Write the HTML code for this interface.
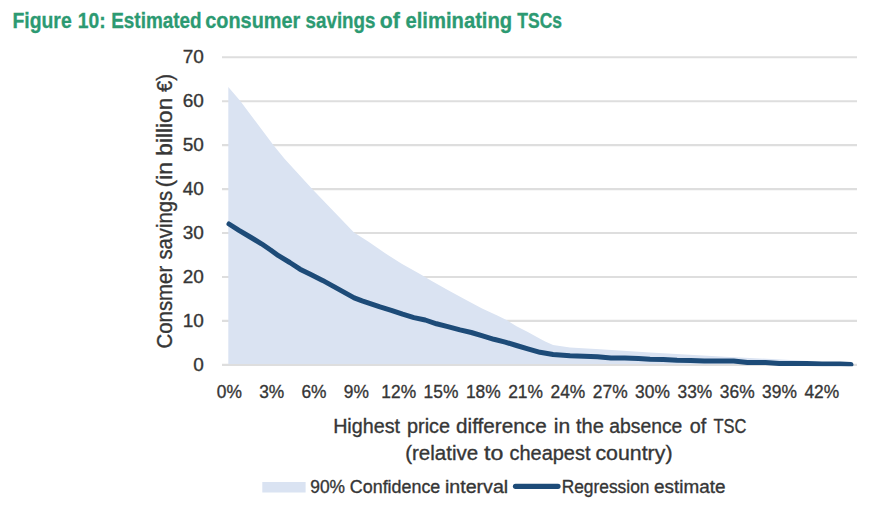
<!DOCTYPE html>
<html><head><meta charset="utf-8"><style>
html,body{margin:0;padding:0;background:#fff;width:877px;height:531px;overflow:hidden}
svg{display:block}
text{font-family:"Liberation Sans",sans-serif;fill:#363636;stroke:#363636;stroke-width:0.35px}
.t text{fill:#2c9a72;stroke:#2c9a72;stroke-width:0.3px}
</style></head><body>
<svg width="877" height="531" viewBox="0 0 877 531">
<g class="t" style="font-weight:bold;font-size:21.5px"><text x="12.40" y="27.7" textLength="59.34" lengthAdjust="spacingAndGlyphs">Figure</text><text x="77.80" y="27.7" textLength="27.86" lengthAdjust="spacingAndGlyphs">10:</text><text x="111.22" y="27.7" textLength="90.45" lengthAdjust="spacingAndGlyphs">Estimated</text><text x="205.28" y="27.7" textLength="95.01" lengthAdjust="spacingAndGlyphs">consumer</text><text x="305.53" y="27.7" textLength="70.02" lengthAdjust="spacingAndGlyphs">savings</text><text x="379.71" y="27.7" textLength="20.09" lengthAdjust="spacingAndGlyphs">of</text><text x="405.46" y="27.7" textLength="106.74" lengthAdjust="spacingAndGlyphs">eliminating</text><text x="517.30" y="27.7" textLength="44.79" lengthAdjust="spacingAndGlyphs">TSCs</text></g>
<g stroke="#dedede" stroke-width="2.1"><line x1="222" y1="57.2" x2="857" y2="57.2"/><line x1="222" y1="101.2" x2="857" y2="101.2"/><line x1="222" y1="145.1" x2="857" y2="145.1"/><line x1="222" y1="189.1" x2="857" y2="189.1"/><line x1="222" y1="233.0" x2="857" y2="233.0"/><line x1="222" y1="277.0" x2="857" y2="277.0"/><line x1="222" y1="320.9" x2="857" y2="320.9"/><line x1="222" y1="364.9" x2="857" y2="364.9"/></g>
<path d="M228.3,364.0 L228.3,87.0 L240.3,101.0 L273.3,145.0 L284.5,158.8 L312.2,189.0 L354.0,232.4 L368.2,241.5 L385.2,253.3 L402.1,264.1 L420.0,274.0 L431.3,280.7 L448.2,290.3 L465.2,299.4 L482.1,308.4 L497.3,315.5 L507.5,320.6 L516.5,326.3 L527.8,331.9 L540.0,338.7 L545.2,341.6 L553.1,345.0 L570.0,347.5 L600.0,349.3 L650.0,352.5 L725.0,356.8 L760.0,358.5 L800.0,360.5 L850.5,364.0 L850.5,364.0 Z" fill="#dae3f2"/>
<clipPath id="pc"><rect x="0" y="0" width="877" height="366.3"/></clipPath>
<path clip-path="url(#pc)" d="M229.0,224.0 L239.0,230.3 L250.2,237.0 L261.5,243.8 L270.6,250.0 L278.5,255.7 L289.8,262.5 L300.0,269.2 L311.3,274.8 L322.6,280.4 L333.9,286.6 L345.2,292.9 L354.2,297.9 L362.1,300.8 L380.0,306.9 L391.3,310.3 L402.6,314.2 L413.9,317.6 L425.2,320.0 L436.5,323.8 L447.8,326.6 L460.0,329.9 L471.3,332.5 L482.6,335.9 L493.9,339.3 L505.2,342.1 L516.5,345.5 L527.8,348.9 L540.0,352.3 L553.1,354.5 L570.0,355.8 L584.0,356.3 L597.4,356.7 L611.0,357.9 L624.7,358.0 L638.4,358.5 L650.0,359.2 L663.2,359.4 L677.0,360.3 L690.6,360.4 L704.3,361.1 L720.0,361.0 L733.7,361.0 L747.4,362.4 L765.6,362.6 L779.3,363.4 L806.4,363.4 L822.0,364.0 L840.2,364.1 L851.0,364.6" fill="none" stroke="#1d4b78" stroke-width="5.0" stroke-linejoin="round" stroke-linecap="round"/>
<g style="font-size:19px"><text x="203.8" y="63.1" text-anchor="end">70</text><text x="203.8" y="107.1" text-anchor="end">60</text><text x="203.8" y="151.0" text-anchor="end">50</text><text x="203.8" y="195.0" text-anchor="end">40</text><text x="203.8" y="238.9" text-anchor="end">30</text><text x="203.8" y="282.9" text-anchor="end">20</text><text x="203.8" y="326.8" text-anchor="end">10</text><text x="203.8" y="370.8" text-anchor="end">0</text></g>
<g style="font-size:18.5px"><text x="229.4" y="398.2" text-anchor="middle" textLength="25.10" lengthAdjust="spacingAndGlyphs">0%</text><text x="271.7" y="398.2" text-anchor="middle" textLength="25.10" lengthAdjust="spacingAndGlyphs">3%</text><text x="314.0" y="398.2" text-anchor="middle" textLength="25.10" lengthAdjust="spacingAndGlyphs">6%</text><text x="356.3" y="398.2" text-anchor="middle" textLength="25.10" lengthAdjust="spacingAndGlyphs">9%</text><text x="398.7" y="398.2" text-anchor="middle" textLength="34.80" lengthAdjust="spacingAndGlyphs">12%</text><text x="441.0" y="398.2" text-anchor="middle" textLength="34.80" lengthAdjust="spacingAndGlyphs">15%</text><text x="483.3" y="398.2" text-anchor="middle" textLength="34.80" lengthAdjust="spacingAndGlyphs">18%</text><text x="525.6" y="398.2" text-anchor="middle" textLength="34.80" lengthAdjust="spacingAndGlyphs">21%</text><text x="567.9" y="398.2" text-anchor="middle" textLength="34.80" lengthAdjust="spacingAndGlyphs">24%</text><text x="610.2" y="398.2" text-anchor="middle" textLength="34.80" lengthAdjust="spacingAndGlyphs">27%</text><text x="652.5" y="398.2" text-anchor="middle" textLength="34.80" lengthAdjust="spacingAndGlyphs">30%</text><text x="694.9" y="398.2" text-anchor="middle" textLength="34.80" lengthAdjust="spacingAndGlyphs">33%</text><text x="737.2" y="398.2" text-anchor="middle" textLength="34.80" lengthAdjust="spacingAndGlyphs">36%</text><text x="779.5" y="398.2" text-anchor="middle" textLength="34.80" lengthAdjust="spacingAndGlyphs">39%</text><text x="821.8" y="398.2" text-anchor="middle" textLength="34.80" lengthAdjust="spacingAndGlyphs">42%</text></g>
<g transform="translate(172.3,347.5) rotate(-90)" style="font-size:21.5px"><text x="-0.95" y="0" textLength="82.65" lengthAdjust="spacingAndGlyphs">Consmer</text><text x="88.00" y="0" textLength="68.61" lengthAdjust="spacingAndGlyphs">savings</text><text x="160.14" y="0" textLength="25.43" lengthAdjust="spacingAndGlyphs">(in</text><text x="191.85" y="0" textLength="57.89" lengthAdjust="spacingAndGlyphs">billion</text><text x="255.50" y="0" textLength="17.96" lengthAdjust="spacingAndGlyphs">€)</text></g>
<g style="font-size:20.5px"><text x="333.14" y="432.5" textLength="66.90" lengthAdjust="spacingAndGlyphs">Highest</text><text x="407.03" y="432.5" textLength="42.99" lengthAdjust="spacingAndGlyphs">price</text><text x="456.09" y="432.5" textLength="90.59" lengthAdjust="spacingAndGlyphs">difference</text><text x="553.77" y="432.5" textLength="16.43" lengthAdjust="spacingAndGlyphs">in</text><text x="576.00" y="432.5" textLength="27.89" lengthAdjust="spacingAndGlyphs">the</text><text x="609.26" y="432.5" textLength="73.13" lengthAdjust="spacingAndGlyphs">absence</text><text x="689.84" y="432.5" textLength="16.51" lengthAdjust="spacingAndGlyphs">of</text><text x="713.40" y="432.5" textLength="32.90" lengthAdjust="spacingAndGlyphs">TSC</text><text x="405.20" y="459.7" textLength="73.02" lengthAdjust="spacingAndGlyphs">(relative</text><text x="484.10" y="459.7" textLength="19.32" lengthAdjust="spacingAndGlyphs">to</text><text x="509.53" y="459.7" textLength="80.97" lengthAdjust="spacingAndGlyphs">cheapest</text><text x="595.46" y="459.7" textLength="77.05" lengthAdjust="spacingAndGlyphs">country)</text></g>
<rect x="262.3" y="482.0" width="43.3" height="10.5" fill="#dae3f2"/>
<g style="font-size:18.7px"><text x="310.27" y="492.6" textLength="34.81" lengthAdjust="spacingAndGlyphs">90%</text><text x="349.84" y="492.6" textLength="90.48" lengthAdjust="spacingAndGlyphs">Confidence</text><text x="444.95" y="492.6" textLength="63.26" lengthAdjust="spacingAndGlyphs">interval</text><text x="561.67" y="492.6" textLength="87.82" lengthAdjust="spacingAndGlyphs">Regression</text><text x="653.99" y="492.6" textLength="71.46" lengthAdjust="spacingAndGlyphs">estimate</text></g>
<line x1="515.5" y1="486.3" x2="558" y2="486.3" stroke="#1d4b78" stroke-width="5.2" stroke-linecap="round"/>
</svg>
</body></html>
